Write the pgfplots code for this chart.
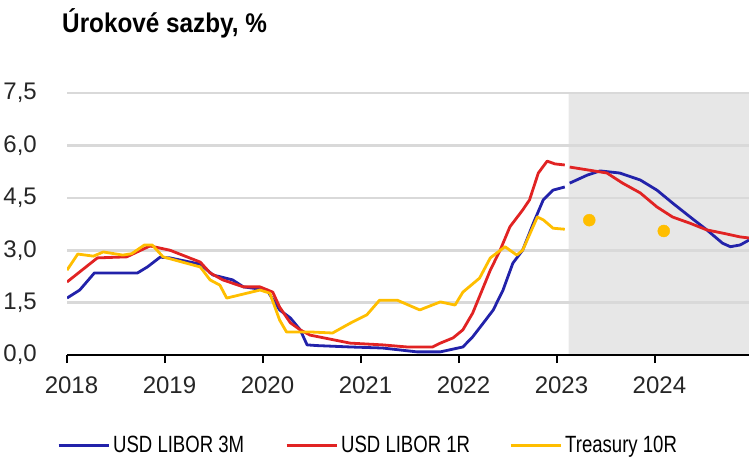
\documentclass[border=0pt]{standalone}
\usepackage{pgfplots}
\pgfplotsset{compat=1.18}
\usepackage{graphicx}
\usepackage{fontspec}
\setmainfont{Liberation Sans}
\definecolor{cblue}{RGB}{34,34,170}
\definecolor{cred}{RGB}{225,35,35}
\definecolor{cyel}{RGB}{255,190,0}
\definecolor{cgrid}{RGB}{217,217,217}
\definecolor{cshade}{RGB}{231,231,231}
\newcommand{\leg}[1]{\scalebox{0.79}[1]{\fontsize{23.5}{24}\selectfont #1}}
\begin{document}
\begin{tikzpicture}
\begin{axis}[
  at={(67pt,101pt)}, anchor=south west,
  scale only axis, width=682pt, height=262pt,
  xmin=2018, xmax=2024.96, ymin=0, ymax=7.5,
  hide axis,
]
\addplot[draw=none, fill=cshade] coordinates {(2023.12,0) (2023.12,7.5) (2024.96,7.5) (2024.96,0)} \closedcycle;
\end{axis}
\begin{axis}[
  at={(67pt,101pt)}, anchor=south west,
  scale only axis, width=682pt, height=262pt,
  xmin=2018, xmax=2024.96, ymin=0, ymax=7.5,
  axis x line*=bottom, axis y line*=left,
  y axis line style={draw=none},
  x axis line style={black, line width=2pt},
  ytick={0,1.5,3,4.5,6,7.5},
  yticklabels={{0,0},{1,5},{3,0},{4,5},{6,0},{7,5}},
  ymajorgrids, grid style={cgrid, line width=2.6pt},
  ytick style={draw=none},
  xtick={2018,2019,2020,2021,2022,2023,2024},
  xticklabels={2018,2019,2020,2021,2022,2023,2024},
  xtick style={black, line width=1.2pt},
  major tick length=8pt, tick align=outside,
  xtick pos=bottom,
  ticklabel style={font=\fontsize{24}{24}\selectfont, text=black!85},
  yticklabel style={inner sep=0pt, xshift=-22pt},
  xticklabel style={inner sep=0pt, xshift=4.5pt, yshift=-14pt},
  title={\scalebox{0.9}[1]{Úrokové sazby, \%}},
  title style={at={(axis description cs:-0.0073,1.2099)}, anchor=base west, inner sep=0pt,
    font=\bfseries\fontsize{27}{28}\selectfont},
  legend columns=3,
  legend style={at={(axis description cs:-0.0147,-0.3435)}, anchor=west, draw=none, fill=none,
    inner sep=0pt, column sep=0pt, nodes={inner sep=0pt}},
  legend image code/.code={\draw[#1, line width=3pt] (0pt,0pt) -- (50pt,0pt);},
]
% USD LIBOR 3M history
\addplot[cblue, line width=2.8pt, line join=round] coordinates {
(2018.00,1.63) (2018.13,1.86) (2018.28,2.35) (2018.72,2.35) (2018.82,2.52)
(2018.95,2.80) (2019.05,2.78) (2019.36,2.60) (2019.49,2.29) (2019.69,2.15)
(2019.80,1.95) (2020.04,1.86) (2020.17,1.29) (2020.28,1.06) (2020.38,0.72)
(2020.45,0.29) (2020.55,0.27) (2020.89,0.23) (2021.22,0.20) (2021.57,0.09)
(2021.81,0.09) (2022.04,0.23) (2022.14,0.52) (2022.25,0.92) (2022.35,1.29)
(2022.45,1.86) (2022.55,2.63) (2022.65,3.00) (2022.76,3.78) (2022.86,4.44)
(2022.96,4.72) (2023.08,4.81)};
\addlegendentry{\hspace{3pt}\makebox[172pt][l]{\leg{USD LIBOR 3M}}}

% USD LIBOR 1R history
\addplot[cred, line width=2.8pt, line join=round] coordinates {
(2018.00,2.09) (2018.31,2.78) (2018.61,2.81) (2018.83,3.10) (2018.85,3.12)
(2019.05,3.00) (2019.36,2.66) (2019.46,2.35) (2019.59,2.15) (2019.80,1.95)
(2019.97,1.95) (2020.10,1.80) (2020.17,1.37) (2020.28,0.92) (2020.38,0.72)
(2020.48,0.57) (2020.89,0.34) (2021.22,0.29) (2021.47,0.23) (2021.73,0.23)
(2021.81,0.34) (2021.94,0.49) (2022.04,0.72) (2022.14,1.20) (2022.25,1.95)
(2022.32,2.43) (2022.42,3.00) (2022.52,3.67) (2022.65,4.15) (2022.72,4.44)
(2022.81,5.21) (2022.90,5.55) (2022.98,5.47) (2023.08,5.44)};
\addlegendentry{\hspace{3pt}\makebox[168pt][l]{\leg{USD LIBOR 1R}}}

% Treasury 10R history
\addplot[cyel, line width=2.8pt, line join=round] coordinates {
(2018.00,2.43) (2018.11,2.89) (2018.27,2.83) (2018.37,2.95) (2018.57,2.86)
(2018.66,2.90) (2018.79,3.15) (2018.87,3.15) (2018.98,2.81) (2019.36,2.52)
(2019.46,2.15) (2019.56,2.00) (2019.63,1.63) (2019.97,1.86) (2020.07,1.77)
(2020.17,1.00) (2020.24,0.66) (2020.48,0.66) (2020.71,0.63) (2020.89,0.91)
(2021.06,1.15) (2021.19,1.57) (2021.37,1.57) (2021.60,1.29) (2021.81,1.52)
(2021.96,1.43) (2022.04,1.80) (2022.21,2.20) (2022.32,2.78) (2022.47,3.10)
(2022.59,2.86) (2022.65,3.00) (2022.80,3.95) (2022.86,3.87) (2022.96,3.63)
(2023.08,3.60)};
\addlegendentry{\hspace{3pt}\leg{Treasury 10R}}

% forecasts
\addplot[cblue, line width=2.8pt, line join=round, forget plot] coordinates {
(2023.13,4.92) (2023.31,5.15) (2023.44,5.27) (2023.64,5.21) (2023.85,5.01)
(2024.02,4.72) (2024.18,4.35) (2024.36,3.95) (2024.53,3.58) (2024.69,3.20)
(2024.77,3.10) (2024.87,3.15) (2024.96,3.29)};
\addplot[cred, line width=2.8pt, line join=round, forget plot] coordinates {
(2023.13,5.38) (2023.31,5.30) (2023.51,5.21) (2023.67,4.92) (2023.85,4.64)
(2024.02,4.24) (2024.18,3.95) (2024.36,3.77) (2024.53,3.58) (2024.69,3.49)
(2024.87,3.38) (2024.96,3.35)};
\addplot[only marks, mark=*, mark size=6pt, cyel, forget plot] coordinates {
(2023.33,3.86) (2024.09,3.55)};
\end{axis}
\pgfresetboundingbox
\path[use as bounding box] (0pt,0pt) rectangle (749pt,456pt);
\end{tikzpicture}
\end{document}
